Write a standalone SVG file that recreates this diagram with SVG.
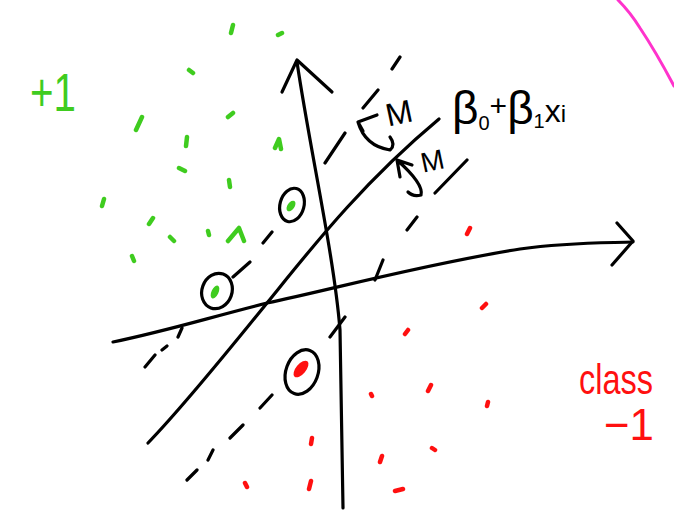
<svg xmlns="http://www.w3.org/2000/svg" width="674" height="516" viewBox="0 0 674 516">
<style>
.ink{fill:none;stroke:#000;stroke-width:3.2;stroke-linecap:round;stroke-linejoin:round}
.g{fill:none;stroke:#3fcc1f;stroke-width:4.5;stroke-linecap:round;stroke-linejoin:round}
.r{fill:none;stroke:#ff1010;stroke-width:4.5;stroke-linecap:round;stroke-linejoin:round}
.gt{fill:#3fcc1f;font-family:"Liberation Sans",Arial,sans-serif}
.rt{fill:#ff1010;font-family:"Liberation Sans",Arial,sans-serif}
.bt{fill:#000;font-family:"Liberation Sans",Arial,sans-serif}
</style>
<rect width="674" height="516" fill="#fff"/>
<!-- pink edge curve -->
<path d="M618,0 Q630,12 640,28 Q656,52 674,86" fill="none" stroke="#ff33cc" stroke-width="3" stroke-linecap="round"/>
<g id="axes">
  <path class="ink" d="M297,62 C310,150 334,255 340,330 L343,508"/>
  <path class="ink" d="M282,92 L297,60 L332,92"/>
  <path class="ink" d="M113,342 C170,330 200,320 267,303 C330,290 420,265 520,249 C570,242 610,243 633,242"/>
  <path class="ink" d="M617,223 L633,241 L612,265"/>
</g>
<g id="hyperplane">
  <path class="ink" d="M148,443 C180,410 225,355 267,303 C310,250 360,185 439,119"/>
</g>
<g id="margin-upper">
  <path class="ink" d="M145,367 L155,355 M162,350 L167,346 M178,337 L182,328 M233,277 L250,262 M263,243 L272,232 M325,163 L345,133 M363,108 L378,90 M392,69 L400,57"/>
</g>
<g id="margin-lower">
  <path class="ink" d="M187,480 L197,470 M208,460 L213,450 M230,438 L243,425 M260,408 L272,395 M330,337 L345,317 M375,280 L383,260 M407,230 L417,217 M435,193 L467,160"/>
</g>
<g id="margin-arrows">
  <path class="ink" d="M377,115 L358,122 L363,131 M358,122 Q365,146 390,150 Q396,145 390,137"/>
  <path class="ink" d="M412,165 L397,160 L400,177 M397,160 Q424,184 421,195 Q413,197 408,192"/>
  <text class="bt" x="385" y="124" font-size="32" transform="rotate(-12 398 110)">M</text>
  <text class="bt" x="420" y="171" font-size="28" transform="rotate(-12 430 158)">M</text>
  <text class="bt" x="452" y="124" font-size="46">β<tspan font-size="20" dy="6">0</tspan><tspan dy="-14" font-size="30">+</tspan><tspan dy="8">β</tspan><tspan font-size="20" dy="4">1</tspan><tspan dy="-6" font-size="32">x</tspan><tspan font-size="24" dy="0">i</tspan></text>
</g>
<g id="support-vectors">
  <ellipse cx="217" cy="291" rx="15" ry="18" class="ink" transform="rotate(20 217 291)"/>
  <ellipse cx="215" cy="292" rx="3.5" ry="7" fill="#3fcc1f" transform="rotate(25 215 292)"/>
  <ellipse cx="292" cy="205" rx="12" ry="17" class="ink" transform="rotate(15 292 205)"/>
  <ellipse cx="291" cy="206" rx="3.5" ry="6" fill="#3fcc1f" transform="rotate(35 291 206)"/>
  <ellipse cx="302" cy="372" rx="16" ry="23" class="ink" transform="rotate(20 302 372)"/>
  <ellipse cx="301" cy="369" rx="5" ry="10" fill="#ff1010" transform="rotate(40 301 369)"/>
</g>
<g id="class-plus">
  <text class="gt" x="30" y="111" font-size="54" textLength="46" lengthAdjust="spacingAndGlyphs">+1</text>
  <path class="g" d="M231,33 L233,25 M278,35 L282,33 M189,70 L193,73 M136,130 L142,117 M228,117 L233,113 M186,146 L187,137 M275,148 L279,139 L281,149 M179,168 L185,171 M229,180 L230,187 M102,206 L104,199 M149,224 L153,218 M170,237 L174,241 M208,231 L209,235 M228,241 L239,228 L244,241 M132,256 L134,261"/>
</g>
<g id="class-minus">
  <text class="rt" x="579" y="394" font-size="42" textLength="74" lengthAdjust="spacingAndGlyphs">class</text>
  <text class="rt" x="604" y="440" font-size="44" textLength="50" lengthAdjust="spacingAndGlyphs">−1</text>
  <path class="r" d="M467,234 L470,228 M482,308 L486,304 M405,334 L408,330 M428,391 L431,385 M371,394 L372,396 M487,406 L488,402 M380,462 L382,456 M432,448 L435,450 M395,491 L403,489 M311,444 L312,438 M245,483 L247,487 M309,489 L311,481"/>
</g>
</svg>
